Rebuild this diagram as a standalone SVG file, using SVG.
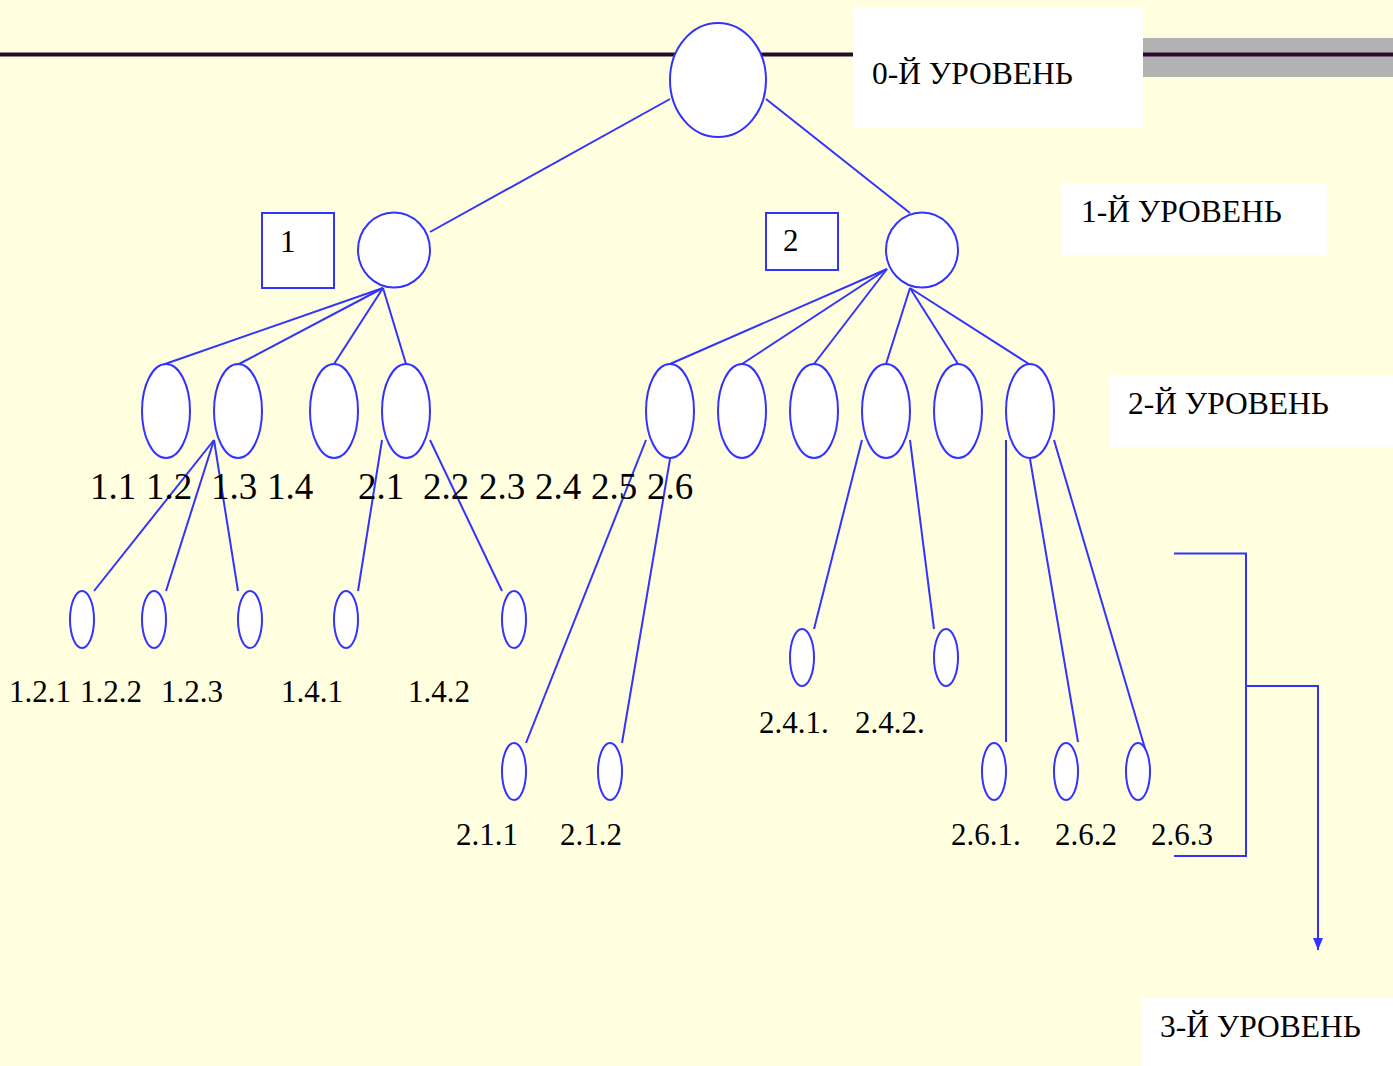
<svg xmlns="http://www.w3.org/2000/svg" width="1393" height="1066" viewBox="0 0 1393 1066">
  <defs>
    <style>
      .bg { fill: #FFFFE0; }
      .node { fill: #FFFFFF; stroke: #3333FF; stroke-width: 2; }
      .edge { fill: none; stroke: #3333FF; stroke-width: 2; }
      .lbl { fill: #FFFFFF; }
      .t { font-family: "Liberation Serif", "Times New Roman", serif; fill: #000000; }
      .lvl { font-size: 31.5px; }
      .n2 { font-size: 37px; }
      .n3 { font-size: 31px; }
      .box { font-size: 31px; }
    </style>
    <marker id="arrow" viewBox="0 0 12 10" refX="12" refY="5" markerWidth="12" markerHeight="10" markerUnits="userSpaceOnUse" orient="auto">
      <path d="M0,0 L12,5 L0,10 Z" fill="#3333FF"/>
    </marker>
  </defs>

  <!-- background and title rule -->
  <rect class="bg" x="0" y="0" width="1393" height="1066"/>
  <rect x="1143" y="38" width="250" height="39" fill="#B2B2B2"/>
  <line x1="0" y1="54.5" x2="1393" y2="54.5" stroke="#2A0A2A" stroke-width="4"/>

  <!-- level captions -->
  <g id="level0">
    <rect class="lbl" x="853" y="7" width="290" height="121"/>
    <text class="t lvl" x="872" y="84">0-Й УРОВЕНЬ</text>
  </g>
  <g id="level1">
    <rect class="lbl" x="1061" y="183" width="266" height="72"/>
    <text class="t lvl" x="1081" y="222">1-Й УРОВЕНЬ</text>
  </g>
  <g id="level2">
    <rect class="lbl" x="1109" y="375" width="284" height="72"/>
    <text class="t lvl" x="1128" y="414">2-Й УРОВЕНЬ</text>
  </g>
  <g id="level3">
    <rect class="lbl" x="1141" y="998" width="252" height="68"/>
    <text class="t lvl" x="1160" y="1037">3-Й УРОВЕНЬ</text>
  </g>

  <!-- connectors -->
  <g id="edges" class="edge">
    <line x1="670" y1="99" x2="430" y2="232"/>
    <line x1="766" y1="99" x2="910" y2="213"/>

    <line x1="383" y1="288" x2="165" y2="364"/>
    <line x1="383" y1="288" x2="239" y2="364"/>
    <line x1="383" y1="288" x2="334" y2="364"/>
    <line x1="383" y1="288" x2="406" y2="364"/>

    <line x1="887" y1="269" x2="670" y2="364"/>
    <line x1="887" y1="269" x2="742" y2="364"/>
    <line x1="887" y1="269" x2="814" y2="364"/>
    <line x1="910" y1="288" x2="886" y2="364"/>
    <line x1="910" y1="288" x2="958" y2="364"/>
    <line x1="910" y1="288" x2="1029" y2="364"/>

    <line x1="214" y1="440" x2="94" y2="591"/>
    <line x1="214" y1="440" x2="166" y2="591"/>
    <line x1="214" y1="440" x2="238" y2="591"/>
    <line x1="382" y1="440" x2="358" y2="591"/>
    <line x1="430" y1="440" x2="502" y2="591"/>

    <line x1="646" y1="440" x2="526" y2="743"/>
    <line x1="670" y1="459" x2="622" y2="743"/>
    <line x1="862" y1="440" x2="814" y2="629"/>
    <line x1="910" y1="440" x2="934" y2="629"/>
    <line x1="1006" y1="440" x2="1006" y2="742"/>
    <line x1="1030" y1="459" x2="1078" y2="742"/>
    <line x1="1054" y1="440" x2="1149" y2="762"/>

    <polyline points="1174,553.5 1246,553.5 1246,856 1174,856"/>
    <polyline points="1246,686 1318,686 1318,950" marker-end="url(#arrow)"/>
  </g>

  <!-- root -->
  <g id="root">
    <ellipse class="node" cx="718" cy="80" rx="48" ry="57"/>
  </g>

  <!-- first level -->
  <g id="n1">
    <rect class="node" x="262" y="213" width="72" height="75"/>
    <text class="t box" x="280" y="252">1</text>
    <ellipse class="node" cx="394" cy="250" rx="36" ry="37.5"/>
  </g>
  <g id="n2">
    <rect class="node" x="766" y="213" width="72" height="57"/>
    <text class="t box" x="783" y="251">2</text>
    <ellipse class="node" cx="922" cy="250" rx="36" ry="37.5"/>
  </g>

  <!-- second level -->
  <g id="n1_1"><ellipse class="node" cx="166" cy="411" rx="24" ry="47"/></g>
  <g id="n1_2"><ellipse class="node" cx="238" cy="411" rx="24" ry="47"/></g>
  <g id="n1_3"><ellipse class="node" cx="334" cy="411" rx="24" ry="47"/></g>
  <g id="n1_4"><ellipse class="node" cx="406" cy="411" rx="24" ry="47"/></g>
  <g id="n2_1"><ellipse class="node" cx="670" cy="411" rx="24" ry="47"/></g>
  <g id="n2_2"><ellipse class="node" cx="742" cy="411" rx="24" ry="47"/></g>
  <g id="n2_3"><ellipse class="node" cx="814" cy="411" rx="24" ry="47"/></g>
  <g id="n2_4"><ellipse class="node" cx="886" cy="411" rx="24" ry="47"/></g>
  <g id="n2_5"><ellipse class="node" cx="958" cy="411" rx="24" ry="47"/></g>
  <g id="n2_6"><ellipse class="node" cx="1030" cy="411" rx="24" ry="47"/></g>

  <!-- second level captions -->
  <g id="captions2" class="t n2">
    <text x="90" y="499">1.1</text>
    <text x="146" y="499">1.2</text>
    <text x="211" y="499">1.3</text>
    <text x="267" y="499">1.4</text>
    <text x="358" y="499">2.1</text>
    <text x="423" y="499">2.2</text>
    <text x="479" y="499">2.3</text>
    <text x="535" y="499">2.4</text>
    <text x="591" y="499">2.5</text>
    <text x="647" y="499">2.6</text>
  </g>

  <!-- third level -->
  <g id="n1_2_1"><ellipse class="node" cx="82" cy="619.5" rx="12" ry="28.5"/></g>
  <g id="n1_2_2"><ellipse class="node" cx="154" cy="619.5" rx="12" ry="28.5"/></g>
  <g id="n1_2_3"><ellipse class="node" cx="250" cy="619.5" rx="12" ry="28.5"/></g>
  <g id="n1_4_1"><ellipse class="node" cx="346" cy="619.5" rx="12" ry="28.5"/></g>
  <g id="n1_4_2"><ellipse class="node" cx="514" cy="619.5" rx="12" ry="28.5"/></g>
  <g id="n2_1_1"><ellipse class="node" cx="514" cy="771.5" rx="12" ry="28.5"/></g>
  <g id="n2_1_2"><ellipse class="node" cx="610" cy="771.5" rx="12" ry="28.5"/></g>
  <g id="n2_4_1"><ellipse class="node" cx="802" cy="657.5" rx="12" ry="28.5"/></g>
  <g id="n2_4_2"><ellipse class="node" cx="946" cy="657.5" rx="12" ry="28.5"/></g>
  <g id="n2_6_1"><ellipse class="node" cx="994" cy="771.5" rx="12" ry="28.5"/></g>
  <g id="n2_6_2"><ellipse class="node" cx="1066" cy="771.5" rx="12" ry="28.5"/></g>
  <g id="n2_6_3"><ellipse class="node" cx="1138" cy="771.5" rx="12" ry="28.5"/></g>

  <!-- third level captions -->
  <g id="captions3" class="t n3">
    <text x="9" y="702">1.2.1</text>
    <text x="80" y="702">1.2.2</text>
    <text x="161" y="702">1.2.3</text>
    <text x="281" y="702">1.4.1</text>
    <text x="408" y="702">1.4.2</text>
    <text x="759" y="733">2.4.1.</text>
    <text x="855" y="733">2.4.2.</text>
    <text x="456" y="845">2.1.1</text>
    <text x="560" y="845">2.1.2</text>
    <text x="951" y="845">2.6.1.</text>
    <text x="1055" y="845">2.6.2</text>
    <text x="1151" y="845">2.6.3</text>
  </g>
</svg>
